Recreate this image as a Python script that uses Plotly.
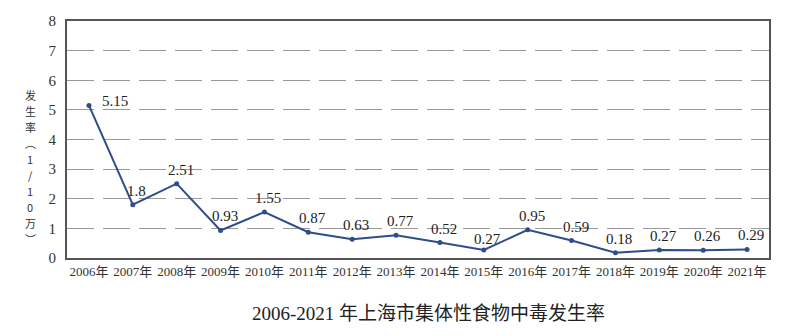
import plotly.graph_objects as go

# Incidence of collective food poisoning in Shanghai, per 100,000 people
years = ["2006年", "2007年", "2008年", "2009年", "2010年", "2011年", "2012年", "2013年",
         "2014年", "2015年", "2016年", "2017年", "2018年", "2019年", "2020年", "2021年"]
rates = [5.15, 1.8, 2.51, 0.93, 1.55, 0.87, 0.63, 0.77, 0.52, 0.27, 0.95, 0.59, 0.18, 0.27, 0.26, 0.29]
y_ticks = [0, 1, 2, 3, 4, 5, 6, 7, 8]

title_text = "2006-2021 年上海市集体性食物中毒发生率"
y_title_chars = ["发", "生", "率", "︵", "1", "/", "1", "0", "万", "︶"]

LINE_COLOR = "#2f4d8a"
SERIF = "Liberation Serif, Times New Roman, Noto Sans CJK SC, serif"

PLOT_TOP, PLOT_BOTTOM = 21, 258
PLOT_H = PLOT_BOTTOM - PLOT_TOP

fig = go.Figure()
fig.add_trace(go.Scatter(
    x=years, y=rates, mode="lines+markers",
    line=dict(color=LINE_COLOR, width=2),
    marker=dict(color=LINE_COLOR, size=5),
    hoverinfo="x+y", showlegend=False,
))

# value labels above each point; the first one sits to the right of its marker
label_shift = {0: (26, 4), 9: (4, 11)}
for i, (yr, v) in enumerate(zip(years, rates)):
    dx, dy = label_shift.get(i, (4, 14))
    fig.add_annotation(
        x=yr, y=v, text=f"{v:g}", showarrow=False,
        xshift=dx, yshift=dy,
        font=dict(family=SERIF, size=15, color="#222"),
    )

# vertical axis title, one character per row
first_row_px, row_step_px = 95, 16
for k, ch in enumerate(y_title_chars):
    py = first_row_px + k * row_step_px
    fig.add_annotation(
        xref="paper", yref="paper", x=-0.052, y=(PLOT_BOTTOM - py) / PLOT_H,
        xanchor="center", yanchor="middle", text=ch, showarrow=False,
        font=dict(family="Noto Sans CJK SC, sans-serif", size=11, color="#333"),
    )

# caption under the chart
fig.add_annotation(
    xref="paper", yref="paper", x=0.515, y=-0.235, xanchor="center", yanchor="middle",
    text=title_text, showarrow=False,
    font=dict(family=SERIF, size=19, color="#222"),
)

fig.update_xaxes(
    type="category", range=[-0.5, len(years) - 0.5],
    showgrid=False, showline=True, mirror=True, linecolor="#555", linewidth=2,
    ticks="", tickfont=dict(family=SERIF, size=13, color="#333"),
)
fig.update_yaxes(
    range=[0, 8], tickvals=y_ticks, ticktext=[str(t) for t in y_ticks],
    showgrid=True, gridcolor="#9a9a9a", gridwidth=1, griddash="27px,9px",
    showline=True, mirror=True, linecolor="#555", linewidth=2, zeroline=False,
    ticks="", ticklabelstandoff=6,
    tickfont=dict(family=SERIF, size=15, color="#333"),
)

fig.update_layout(
    width=800, height=336,
    margin=dict(l=67, r=31, t=PLOT_TOP, b=336 - PLOT_BOTTOM),
    paper_bgcolor="white", plot_bgcolor="white",
)

fig.write_html("out.html")
